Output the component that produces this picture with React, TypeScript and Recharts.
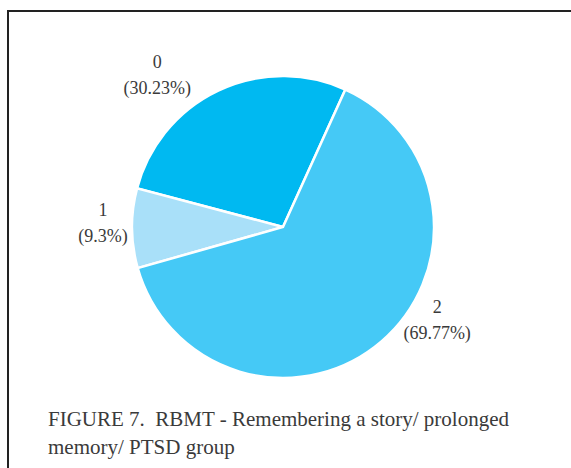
import { PieChart, Pie, Cell } from "recharts";

const categories = ["0", "1", "2"];
const percents = [30.23, 9.3, 69.77];
const sliceColors = ["#00B9F1", "#A9E0F9", "#45C9F6"];

const caption = ["FIGURE 7.  RBMT - Remembering a story/ prolonged", "memory/ PTSD group"];

// where each label block sits, polar from pie centre (deg, px)
const labelPlacement = [
  { angle: 129.7, radius: 197 },
  { angle: 178.7, radius: 180 },
  { angle: -31.1, radius: 180 },
];

const data = categories.map((name, i) => ({ name, value: percents[i] }));

const RAD = Math.PI / 180;

function renderLabel(props: any) {
  const { cx, cy, index, payload } = props;
  const p = labelPlacement[index];
  const x = cx + p.radius * Math.cos(p.angle * RAD);
  const y = cy - p.radius * Math.sin(p.angle * RAD);
  return (
    <text
      x={x}
      y={y}
      textAnchor="middle"
      fill="#3a3a3a"
      fontFamily="'Liberation Serif', serif"
      fontSize={18}
    >
      <tspan x={x} dy={-7}>{payload.name}</tspan>
      <tspan x={x} dy={26}>({payload.value}%)</tspan>
    </text>
  );
}

export default function App() {
  return (
    <div style={{ position: "absolute", left: 0, top: 0, width: 571, height: 468, background: "#fff" }}>
      <div
        style={{
          position: "absolute",
          left: 7,
          top: 10,
          right: 0,
          bottom: 0,
          borderLeft: "2px solid #222",
          borderTop: "2px solid #222",
        }}
      />
      <div style={{ position: "absolute", left: 0, top: 0 }}>
        <PieChart width={571} height={468} margin={{ top: 0, right: 0, bottom: 0, left: 0 }}>
          <Pie
            data={data}
            dataKey="value"
            nameKey="name"
            cx={283}
            cy={227}
            outerRadius={151}
            startAngle={65.6}
            endAngle={425.6}
            stroke="#fff"
            strokeWidth={2.5}
            label={renderLabel}
            labelLine={false}
            isAnimationActive={false}
          >
            {data.map((d, i) => (
              <Cell key={d.name} fill={sliceColors[i]} />
            ))}
          </Pie>
        </PieChart>
      </div>
      <div
        style={{
          position: "absolute",
          left: 48,
          top: 405,
          fontFamily: "'Liberation Serif', serif",
          fontSize: 21,
          lineHeight: "28px",
          color: "#3a3a3a",
          whiteSpace: "pre",
        }}
      >
        {caption.map((line) => (
          <div key={line}>{line}</div>
        ))}
      </div>
    </div>
  );
}
